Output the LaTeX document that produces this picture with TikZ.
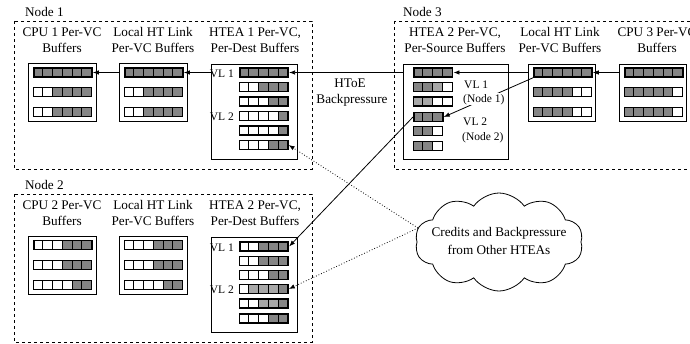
\documentclass[tikz,border=0pt]{standalone}
\usepackage{fontspec}
\setmainfont{Liberation Serif}
\usetikzlibrary{shapes.symbols,arrows.meta}
\definecolor{G}{gray}{0.52}
\definecolor{L}{gray}{0.66}
\definecolor{W}{gray}{1}
\tikzset{
  nodebox/.style={draw, dashed, line width=0.7pt},
  bufbox/.style={draw, line width=0.8pt, fill=white},
  title/.style={anchor=base, inner sep=0pt, font=\fontsize{13.2}{16}\selectfont},
  vl/.style={anchor=base, inner sep=0pt, font=\fontsize{11.5}{14}\selectfont},
  solidarrow/.style={line width=0.8pt, -{Latex[length=6pt,width=4.5pt]}},
  dotarrow/.style={line width=0.8pt, dotted, -{Latex[length=6pt,width=4.5pt]}},
}
\newcommand\qrow[6]{% name, x, y, ncells, pattern, frame width
  \foreach \c [count=\i from 0] in {#5} {
    \filldraw[fill=\c, draw=black, line width=0.5pt] ({#2+\i*9.7},{#3-4.5}) rectangle ++(9.7,9);
  }
  \pgfmathsetmacro\qw{#4*9.7}
  \node[draw, line width=#6, inner sep=0pt, minimum width=\qw pt, minimum height=9pt, anchor=west] (#1) at (#2,#3) {};
}
\begin{document}
\begin{tikzpicture}[x=1pt,y=-1pt]
\useasboundingbox (0,0) rectangle (690,343);
% ---------------- node frames
\draw[nodebox] (14,21) rectangle (312,169);
\draw[nodebox] (394,21) rectangle (700,169);
\draw[nodebox] (14,194) rectangle (312,342);
\node[title, anchor=base west] (n1) at (25,16) {Node 1};
\node[title, anchor=base west] (n3) at (403,16) {Node 3};
\node[title, anchor=base west] (n2) at (25,189) {Node 2};
% ---------------- Node 1
\node[title] at (62,36) {CPU 1 Per-VC};
\node[title] at (62,52) {Buffers};
\node[title] at (153,36) {Local HT Link};
\node[title] at (153,52) {Per-VC Buffers};
\node[title] at (255,36) {HTEA 1 Per-VC,};
\node[title] at (255,52) {Per-Dest Buffers};
\draw[bufbox] (28,63) rectangle (96,121);
\draw[bufbox] (119,63) rectangle (187,121);
\draw[bufbox] (211,64) rectangle (297,159);
\qrow{c1a}{33}{72.5}{6}{G,G,G,G,G,G}{1.6pt}
\qrow{c1b}{33}{92}{6}{W,W,G,G,G,G}{1.1pt}
\qrow{c1c}{33}{112}{6}{W,W,G,G,G,G}{1.1pt}
\qrow{l1a}{124}{72.5}{6}{G,G,G,G,G,G}{1.6pt}
\qrow{l1b}{124}{92}{6}{W,W,G,G,G,G}{1.1pt}
\qrow{l1c}{124}{112}{6}{W,W,G,G,G,G}{1.1pt}
\qrow{h1a}{239}{72.5}{5}{G,G,G,G,G}{1.6pt}
\qrow{h1b}{239}{87}{5}{W,W,G,G,G}{1.1pt}
\qrow{h1c}{239}{101.5}{5}{W,W,W,G,G}{1.1pt}
\qrow{h1d}{239}{116}{5}{W,W,W,W,G}{1.1pt}
\qrow{h1e}{239}{130.5}{5}{W,W,W,W,G}{1.1pt}
\qrow{h1f}{239}{145}{5}{W,W,W,G,G}{1.1pt}
\node[vl, anchor=base east] (vl11) at (234,77) {VL 1};
\node[vl, anchor=base east] (vl12) at (234,120) {VL 2};
% ---------------- Node 2
\node[title] at (62,209) {CPU 2 Per-VC};
\node[title] at (62,225) {Buffers};
\node[title] at (153,209) {Local HT Link};
\node[title] at (153,225) {Per-VC Buffers};
\node[title] at (255,209) {HTEA 2 Per-VC,};
\node[title] at (255,225) {Per-Dest Buffers};
\draw[bufbox] (28,236) rectangle (96,294);
\draw[bufbox] (119,236) rectangle (187,294);
\draw[bufbox] (211,237) rectangle (297,332);
\qrow{c2a}{33}{245}{6}{W,W,W,G,G,G}{1.6pt}
\qrow{c2b}{33}{265}{6}{W,W,W,G,G,G}{1.1pt}
\qrow{c2c}{33}{285}{6}{W,W,W,W,G,G}{1.1pt}
\qrow{l2a}{124}{245}{6}{W,W,W,G,G,G}{1.1pt}
\qrow{l2b}{124}{265}{6}{W,W,W,G,G,G}{1.1pt}
\qrow{l2c}{124}{285}{6}{W,W,W,W,G,G}{1.1pt}
\qrow{h2a}{239}{246.5}{5}{W,W,G,G,G}{1.6pt}
\qrow{h2b}{239}{261}{5}{W,W,G,G,G}{1.1pt}
\qrow{h2c}{239}{275}{5}{W,W,W,G,G}{1.1pt}
\qrow{h2d}{239}{289}{5}{W,L,L,L,G}{1.3pt}
\qrow{h2e}{239}{303.5}{5}{W,W,L,L,G}{1.1pt}
\qrow{h2f}{239}{318.5}{5}{W,W,W,G,G}{1.1pt}
\node[vl, anchor=base east] (vl21) at (234,251) {VL 1};
\node[vl, anchor=base east] (vl22) at (234,293) {VL 2};
% ---------------- Node 3
\node[title] at (455,36) {HTEA 2 Per-VC,};
\node[title] at (455,52) {Per-Source Buffers};
\node[title] at (560,36) {Local HT Link};
\node[title] at (560,52) {Per-VC Buffers};
\node[title] at (657,36) {CPU 3 Per-VC};
\node[title] at (657,52) {Buffers};
\draw[bufbox] (403,64) rectangle (508,159);
\draw[bufbox] (528,64) rectangle (595,121);
\draw[bufbox] (619,64) rectangle (686,121);
\qrow{s3a}{413}{72.5}{4}{G,G,G,G}{1.6pt}
\qrow{s3b}{413}{87}{4}{G,G,L,W}{1.1pt}
\qrow{s3c}{413}{101.5}{4}{L,L,W,W}{1.1pt}
\qrow{s3d}{413}{117}{3}{G,G,G}{1.6pt}
\qrow{s3e}{413}{131}{3}{G,G,W}{1.1pt}
\qrow{s3f}{413}{146}{3}{G,G,W}{1.1pt}
\qrow{l3a}{533}{72.5}{6}{G,G,G,G,G,G}{1.6pt}
\qrow{l3b}{533}{92}{6}{G,G,G,G,W,W}{1.1pt}
\qrow{l3c}{533}{112}{6}{G,G,G,G,W,W}{1.1pt}
\qrow{c3a}{624}{72.5}{6}{G,G,G,G,G,G}{1.6pt}
\qrow{c3b}{624}{92}{6}{G,G,G,G,G,W}{1.1pt}
\qrow{c3c}{624}{112}{6}{G,G,G,G,G,W}{1.1pt}
% ---------------- arrows
\coordinate (h1in) at (211,72.5);
\coordinate (l1in) at (119,72.5);
\coordinate (s3out) at (403,72.5);
\coordinate (l3in) at (528,72.5);
\coordinate (c3out) at (619,72.5);
\draw[solidarrow] (l1in) -- (c1a.east);
\draw[solidarrow] (h1in) -- (l1a.east);
\draw[solidarrow] (s3out) -- (h1a.east);
\draw[solidarrow] (l3in) -- (s3a.east);
\draw[solidarrow] (c3out) -- (l3a.east);
\draw[solidarrow] (l3a.south west) -- (s3d.east);
\draw[solidarrow] (s3d.west) -- (h2a.east);
\node[vl, anchor=base west, fill=white, inner sep=1pt] (vl31) at (463,88) {VL 1};
\node[vl, anchor=base west, fill=white, inner sep=1pt] (vl31n) at (462,102) {(Node 1)};
\node[vl, anchor=base west] (vl32) at (463,125) {VL 2};
\node[vl, anchor=base west] (vl32n) at (462,140) {(Node 2)};
% HToE label
\node[title] (htoe) at (350,87) {HToE};
\node[title] (bp) at (352,103) {Backpressure};
% cloud
\node[cloud, draw, line width=0.8pt, cloud puffs=10, cloud puff arc=110, aspect=1.7,
      minimum width=168pt, minimum height=98pt, inner sep=0pt] (cl) at (499,242) {};
\node[align=center, font=\fontsize{13.2}{18}\selectfont] (clt) at (499,241) {Credits and Backpressure\\from Other HTEAs};
\coordinate (clw) at (418,228);
\draw[dotarrow] (clw) -- (h1f.east);
\draw[dotarrow] (clw) -- (h2d.east);
\end{tikzpicture}
\end{document}
